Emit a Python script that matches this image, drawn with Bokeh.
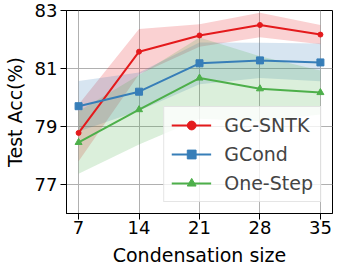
from bokeh.plotting import figure
from bokeh.layouts import column
from bokeh.models import Range1d, FixedTicker, Legend, LegendItem
from bokeh.core.properties import value
from bokeh.embed import file_html
from bokeh.resources import INLINE
import numpy as np

sizes = [7, 14, 21, 28, 35]
gcsntk = [78.78, 81.58, 82.14, 82.5, 82.17]
gcsntk_std = [0.98, 0.78, 0.39, 0.42, 0.33]
gcond = [79.7, 80.2, 81.18, 81.28, 81.21]
gcond_std = [0.87, 0.66, 0.72, 0.61, 0.65]
onestep = [78.45, 79.58, 80.67, 80.3, 80.17]
onestep_std = [1.08, 1.2, 1.4, 1.12, 0.76]

xticks = [7, 14, 21, 28, 35]
yticks = [77, 79, 81, 83]
x_title = "Condensation size"
y_title = "Test Acc(%)"

RED = "#e41a1c"
BLUE = "#377eb8"
GREEN = "#4daf4a"
FONT = "DejaVu Sans"
XR = (5.6, 36.4)

p = figure(width=340, height=245, output_backend="svg", toolbar_location=None,
           x_range=Range1d(*XR), y_range=Range1d(76, 83),
           min_border_left=56, min_border_right=0, min_border_top=10, min_border_bottom=32)

p.outline_line_color = "black"
p.outline_line_width = 1
p.background_fill_color = "white"
p.border_fill_color = "white"

for ax in (p.xaxis[0], p.yaxis[0]):
    ax.major_label_text_font = FONT
    ax.major_label_text_font_size = "18px"
    ax.major_label_text_color = "black"
    ax.axis_label_text_font = FONT
    ax.axis_label_text_font_size = "19px"
    ax.axis_label_text_font_style = "normal"
    ax.axis_label_text_color = "black"
    ax.major_tick_in = 0
    ax.major_tick_out = 6
    ax.minor_tick_in = 0
    ax.minor_tick_out = 0
    ax.axis_line_color = "black"

p.xaxis.major_label_standoff = 1
p.yaxis.major_label_standoff = 3
p.xaxis.ticker = FixedTicker(ticks=xticks)
p.yaxis.ticker = FixedTicker(ticks=yticks)
p.yaxis.axis_label = y_title
p.yaxis.axis_label_standoff = 6

p.xgrid.grid_line_color = "#b0b0b0"
p.ygrid.grid_line_color = "#b0b0b0"
p.xgrid.grid_line_width = 1
p.ygrid.grid_line_width = 1

x = np.array(sizes)
series = [
    ("GC-SNTK", gcsntk, gcsntk_std, RED, "circle", 5),
    ("GCond", gcond, gcond_std, BLUE, "square", 7),
    ("One-Step", onestep, onestep_std, GREEN, "triangle", 7),
]

for name, m, s, c, mk, sz in series:
    m = np.array(m); s = np.array(s)
    p.varea(x=x, y1=m - s, y2=m + s, fill_color=c, fill_alpha=0.2)

items = []
for name, m, s, c, mk, sz in series:
    ln = p.line(x=x, y=m, line_color=c, line_width=2)
    sc = p.scatter(x=x, y=m, marker=mk, size=sz, fill_color=c, line_color=c)
    items.append(LegendItem(label=name, renderers=[ln, sc]))

legend = Legend(items=items, location="bottom_right", margin=11,
                label_text_font=FONT, label_text_font_size="19px",
                glyph_width=40, glyph_height=22, label_height=22,
                spacing=7, padding=7, label_standoff=13,
                border_line_color="#cccccc", border_line_width=1,
                background_fill_alpha=0.8, background_fill_color="white")
p.add_layout(legend, "center")

# x-axis title strip, sharing the plot's horizontal range
q = figure(width=340, height=19, output_backend="svg", toolbar_location=None,
           x_range=p.x_range, y_range=Range1d(0, 1),
           x_axis_type=None, y_axis_type=None,
           min_border_left=60, min_border_right=8, min_border_top=0, min_border_bottom=0)
q.outline_line_color = None
q.xgrid.visible = False
q.ygrid.visible = False
q.background_fill_color = "white"
q.border_fill_color = "white"
q.text(x=[sum(XR) / 2], y=[0.5], text=[x_title], text_font=value(FONT),
       text_font_size="19px", text_color="black",
       text_align="center", text_baseline="middle")

layout = column(p, q, spacing=0)
open("out.html", "w").write(file_html(layout, INLINE))
